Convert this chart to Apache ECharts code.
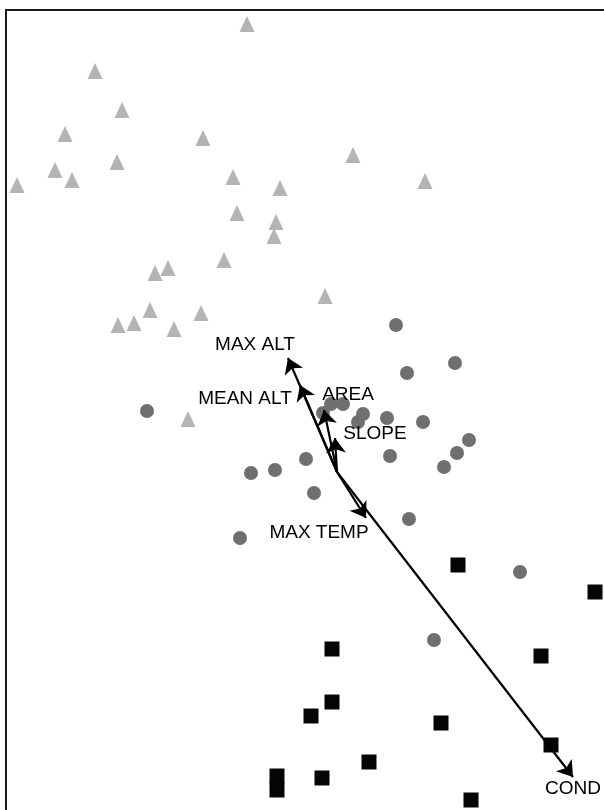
<!DOCTYPE html>
<html>
<head>
<meta charset="utf-8">
<script src="https://cdn.jsdelivr.net/npm/echarts@6/dist/echarts.min.js"></script>
<style>
html,body{margin:0;padding:0;background:#fff;}
#chart{width:604px;height:810px;}
</style>
</head>
<body>
<div id="chart"></div>
<script>
// Ordination scores (axis 1, axis 2)
const triangles = [
  [-0.90,4.48],[-2.42,4.01],[-2.15,3.62],[-2.72,3.38],[-1.34,3.34],[-2.20,3.10],
  [-2.82,3.02],[-2.65,2.92],[-3.20,2.87],[0.16,3.17],[-1.04,2.95],[-0.57,2.84],
  [0.88,2.91],[-1.00,2.59],[-0.61,2.50],[-0.63,2.36],[-1.13,2.12],[-1.82,1.99],
  [-1.69,2.04],[-0.12,1.76],[-1.87,1.62],[-1.36,1.59],[-2.03,1.49],[-2.19,1.47],
  [-1.63,1.43],[-1.49,0.53]
];
const circles = [
  [0.59,1.47],[1.18,1.09],[0.70,0.99],[-1.90,0.61],[-0.06,0.68],[0.06,0.68],
  [-0.14,0.59],[0.26,0.58],[0.21,0.50],[0.50,0.54],[0.86,0.50],[1.32,0.32],
  [1.20,0.19],[1.07,0.05],[0.53,0.16],[-0.31,0.13],[-0.62,0.02],[-0.86,-0.01],
  [-0.23,-0.21],[0.72,-0.47],[-0.97,-0.66],[1.83,-1.00],[0.97,-1.68]
];
const squares = [
  [1.21,-0.93],[2.58,-1.20],[-0.05,-1.77],[2.04,-1.84],[-0.05,-2.30],[-0.26,-2.44],
  [1.04,-2.51],[2.14,-2.73],[0.32,-2.90],[-0.15,-3.06],[-0.60,-3.04],[-0.60,-3.18],
  [1.34,-3.28]
];
// Environmental vectors
const vectorNames = ['MAX ALT','MEAN ALT','AREA','SLOPE','MAX TEMP','COND'];
const vectorTips = [[-0.49,1.14],[-0.37,0.87],[-0.13,0.62],[-0.02,0.34],[0.29,-0.46],[2.36,-3.05]];
const vectorLabelPos = [[-0.82,1.27],[-0.92,0.73],[0.11,0.77],[0.38,0.38],[-0.18,-0.61],[2.36,-3.17]];
const origin = [0,0];

const chart = echarts.init(document.getElementById('chart'), null, {renderer:'canvas'});
const hiddenAxis = {
  axisLine:{show:false}, axisTick:{show:false}, axisLabel:{show:false}, splitLine:{show:false}
};
chart.setOption({
  animation:false,
  backgroundColor:'#fff',
  grid:{left:6, top:10, width:620, height:820, show:true, borderColor:'#1a1a1a', borderWidth:2,
        backgroundColor:'transparent', outerBoundsMode:'none', containLabel:false},
  xAxis:Object.assign({type:'value', min:-3.31, max:2.89}, hiddenAxis),
  yAxis:Object.assign({type:'value', min:-3.58, max:4.62}, hiddenAxis),
  series:[
    {type:'scatter', silent:true, data:triangles, symbol:'triangle', symbolSize:[15,16],
     itemStyle:{color:'#b4b4b4', opacity:1}},
    {type:'scatter', silent:true, data:circles, symbol:'circle', symbolSize:14,
     itemStyle:{color:'#6f6f6f', opacity:1}},
    {type:'scatter', silent:true, data:squares, symbol:'rect', symbolSize:15,
     itemStyle:{color:'#050505', opacity:1}},
    {type:'lines', coordinateSystem:'cartesian2d', silent:true, z:5,
     symbol:['none','arrow'], symbolSize:[8,15],
     lineStyle:{color:'#000', width:2.2, opacity:1},
     data:vectorTips.map(t => ({coords:[origin, t]}))},
    {type:'scatter', silent:true, z:6, symbolSize:0,
     itemStyle:{opacity:1},
     data:vectorNames.map((n,i) => ({name:n, value:vectorLabelPos[i]})),
     label:{show:true, position:'inside', formatter:'{b}', color:'#000',
            fontSize:19, fontFamily:'Liberation Sans, Arial, sans-serif'}}
  ]
});
</script>
</body>
</html>
